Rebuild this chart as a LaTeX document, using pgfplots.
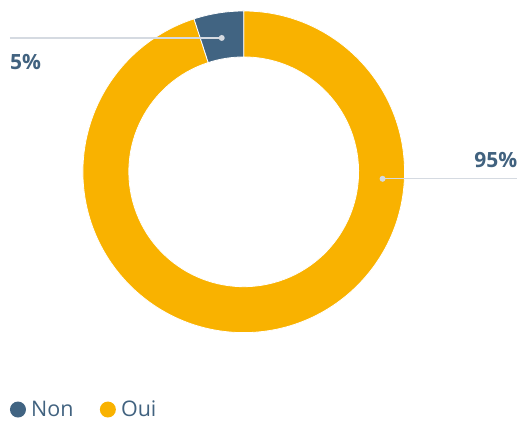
\documentclass[border=0pt]{standalone}
\usepackage{pgfplots}
\pgfplotsset{compat=1.18}
\usepackage{pgfplotstable}
\usepackage{fontspec}
\setmainfont{Open Sans}
\definecolor{non}{HTML}{416482}
\definecolor{oui}{HTML}{F9B200}
\definecolor{lbl}{HTML}{41627F}
\definecolor{conn}{HTML}{D5DAE1}

\pgfplotstableread{
label value
Non 5
Oui 95
}\piedata

\begin{document}
\begin{tikzpicture}
\pgfplotstablegetelem{0}{value}\of\piedata \let\vnon\pgfplotsretval
\pgfplotstablegetelem{1}{value}\of\piedata \let\voui\pgfplotsretval
% Oui runs clockwise from the top, Non closes the ring
\pgfmathsetmacro{\fOui}{\voui/(\voui+\vnon)}
\pgfmathsetmacro{\fNon}{\vnon/(\voui+\vnon)}
\pgfmathsetmacro{\aA}{90}
\pgfmathsetmacro{\aB}{90-360*\fOui}
\pgfmathsetmacro{\aC}{\aB-360*\fNon}
\def\Ro{161}\def\Ri{115}
\begin{axis}[
  x=1pt, y=1pt, xmin=0, xmax=518, ymin=0, ymax=421,
  hide axis, clip=false, anchor=origin,
]
  \path (axis cs:0,0) rectangle (axis cs:518,421);
  \begin{scope}[shift={(axis cs:244,249)}]
    \fill[oui, draw=white, line width=0.8pt]
      (\aA:\Ro pt) arc[start angle=\aA, end angle=\aB, radius=\Ro pt]
      -- (\aB:\Ri pt) arc[start angle=\aB, end angle=\aA, radius=\Ri pt] -- cycle;
    \fill[non, draw=white, line width=0.8pt]
      (\aB:\Ro pt) arc[start angle=\aB, end angle=\aC, radius=\Ro pt]
      -- (\aC:\Ri pt) arc[start angle=\aC, end angle=\aB, radius=\Ri pt] -- cycle;
  \end{scope}
  % data labels
  \draw[conn, line width=1.2pt] (axis cs:10,383) -- (axis cs:222,383);
  \fill[conn] (axis cs:222,383) circle (3pt);
  \node[anchor=west, text=lbl, font=\fontsize{21}{24}\selectfont\bfseries, inner sep=0pt]
    at (axis cs:10,359) {5\%};
  \draw[conn, line width=1.2pt] (axis cs:383,242) -- (axis cs:518,242);
  \fill[conn] (axis cs:383,242) circle (3pt);
  \node[anchor=east, text=lbl, font=\fontsize{21}{24}\selectfont\bfseries, inner sep=0pt]
    at (axis cs:518,261) {95\%};
  % legend
  \fill[non] (axis cs:18,11) circle (8pt);
  \node[anchor=west, text=lbl, font=\fontsize{21.5}{24}\selectfont, inner sep=0pt]
    at (axis cs:31,12) {Non};
  \fill[oui] (axis cs:108,11) circle (8pt);
  \node[anchor=west, text=lbl, font=\fontsize{21.5}{24}\selectfont, inner sep=0pt]
    at (axis cs:121,12) {Oui};
\end{axis}
\end{tikzpicture}
\end{document}
